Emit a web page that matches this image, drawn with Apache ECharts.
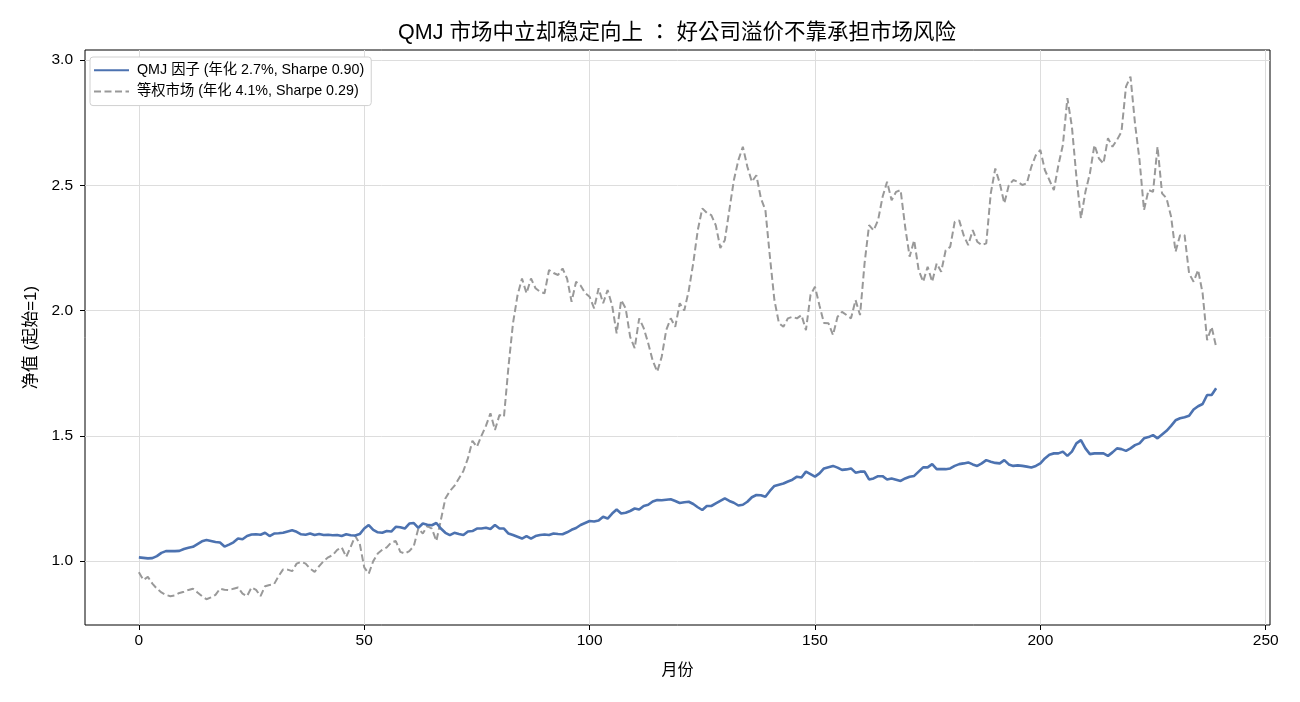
<!DOCTYPE html>
<html>
<head>
<meta charset="utf-8">
<script src="https://cdn.jsdelivr.net/npm/echarts@6/dist/echarts.min.js"></script>
<style>
  html, body { margin: 0; padding: 0; background: #fff; }
  #chart { width: 1300px; height: 702px; }
</style>
</head>
<body>
<div id="chart"></div>
<script>
// monthly net value
const qmj = [
  1.015, 1.013, 1.011, 1.012, 1.02, 1.033, 1.04, 1.04, 1.04, 1.041,
  1.048, 1.053, 1.057, 1.068, 1.079, 1.084, 1.08, 1.076, 1.074, 1.058,
  1.066, 1.075, 1.09, 1.087, 1.1, 1.106, 1.107, 1.105, 1.113, 1.1,
  1.11, 1.111, 1.113, 1.118, 1.123, 1.117, 1.107, 1.105, 1.11, 1.104,
  1.108, 1.104, 1.105, 1.103, 1.104, 1.1, 1.107, 1.103, 1.102, 1.108,
  1.13, 1.144, 1.125, 1.115, 1.113, 1.12, 1.118, 1.137, 1.135, 1.13,
  1.15, 1.152, 1.133, 1.15, 1.145, 1.143, 1.152, 1.13, 1.113, 1.104,
  1.113, 1.108, 1.104, 1.118, 1.12, 1.13, 1.13, 1.133, 1.128, 1.144,
  1.13, 1.13, 1.11, 1.104, 1.097, 1.09, 1.1, 1.09, 1.1, 1.104,
  1.106, 1.104, 1.11, 1.108, 1.107, 1.115, 1.125, 1.132, 1.144, 1.152,
  1.16, 1.158, 1.162, 1.177, 1.17, 1.19, 1.206, 1.19, 1.193, 1.2,
  1.21, 1.206, 1.22, 1.225, 1.238, 1.244, 1.243, 1.245, 1.247, 1.24,
  1.232, 1.235, 1.237, 1.228, 1.215, 1.204, 1.22, 1.22, 1.23, 1.24,
  1.25, 1.24, 1.233, 1.222, 1.225, 1.237, 1.255, 1.264, 1.263, 1.257,
  1.28, 1.3, 1.305, 1.31, 1.318, 1.325, 1.337, 1.334, 1.357, 1.347,
  1.337, 1.35, 1.37, 1.375, 1.38, 1.373, 1.364, 1.366, 1.37, 1.353,
  1.357, 1.357, 1.326, 1.33, 1.339, 1.339, 1.326, 1.33, 1.325, 1.32,
  1.33, 1.337, 1.34, 1.357, 1.374, 1.374, 1.387, 1.367, 1.367, 1.367,
  1.37, 1.38, 1.387, 1.39, 1.394, 1.386, 1.38, 1.39, 1.403, 1.397,
  1.392, 1.39, 1.403, 1.386, 1.38, 1.382, 1.38, 1.377, 1.374, 1.38,
  1.39, 1.41, 1.425, 1.43, 1.43, 1.437, 1.42, 1.437, 1.47, 1.483,
  1.45, 1.427, 1.43, 1.43, 1.43, 1.42, 1.434, 1.45, 1.447, 1.44,
  1.45, 1.463, 1.47, 1.49, 1.495, 1.503, 1.49, 1.505, 1.52, 1.54,
  1.562, 1.57, 1.574, 1.58, 1.605, 1.618, 1.627, 1.663, 1.663, 1.69
];

const market = [
  0.956, 0.925, 0.937, 0.91, 0.89, 0.875, 0.865, 0.86, 0.863, 0.873,
  0.878, 0.885, 0.89, 0.875, 0.86, 0.848, 0.855, 0.865, 0.89, 0.886,
  0.884, 0.89, 0.895, 0.87, 0.86, 0.895, 0.885, 0.86, 0.9, 0.905,
  0.908, 0.94, 0.967, 0.966, 0.96, 0.99, 0.997, 0.99, 0.97, 0.957,
  0.98, 1.0, 1.015, 1.024, 1.045, 1.055, 1.017, 1.057, 1.1, 1.07,
  0.975, 0.95, 1.0, 1.03, 1.045, 1.055, 1.075, 1.08, 1.037, 1.03,
  1.04, 1.06, 1.13, 1.11, 1.14, 1.13, 1.08, 1.164, 1.25, 1.28,
  1.3, 1.33, 1.36, 1.41, 1.48, 1.456, 1.5, 1.54, 1.59, 1.523,
  1.583, 1.576, 1.776, 1.949, 2.06, 2.128, 2.069, 2.128, 2.089, 2.075,
  2.069, 2.162, 2.15, 2.142, 2.168, 2.128, 2.035, 2.115, 2.1, 2.07,
  2.055, 2.009, 2.089, 2.029, 2.082, 2.02, 1.909, 2.042, 2.009, 1.895,
  1.85, 1.969, 1.93, 1.87, 1.8, 1.756, 1.816, 1.922, 1.969, 1.935,
  2.029, 2.0, 2.08, 2.19, 2.321, 2.408, 2.39, 2.381, 2.34, 2.25,
  2.281, 2.401, 2.52, 2.6, 2.654, 2.574, 2.514, 2.54, 2.448, 2.401,
  2.215, 2.042, 1.95, 1.935, 1.969, 1.975, 1.969, 1.982, 1.922, 2.062,
  2.095, 2.02, 1.95, 1.949, 1.902, 1.975, 1.995, 1.982, 1.969, 2.042,
  1.982, 2.188, 2.341, 2.32, 2.361, 2.454, 2.514, 2.44, 2.474, 2.481,
  2.335, 2.215, 2.281, 2.162, 2.115, 2.175, 2.115, 2.188, 2.155, 2.241,
  2.254, 2.354, 2.36, 2.3, 2.261, 2.321, 2.275, 2.261, 2.268, 2.468,
  2.567, 2.508, 2.428, 2.5, 2.521, 2.514, 2.501, 2.508, 2.574, 2.62,
  2.641, 2.561, 2.521, 2.481, 2.58, 2.661, 2.848, 2.734, 2.534, 2.368,
  2.474, 2.548, 2.661, 2.607, 2.587, 2.688, 2.654, 2.681, 2.714, 2.894,
  2.934, 2.747, 2.601, 2.401, 2.481, 2.474, 2.654, 2.468, 2.448, 2.375,
  2.235, 2.301, 2.301, 2.148, 2.115, 2.162, 2.069, 1.882, 1.935, 1.855
];

const xTicks = [0, 50, 100, 150, 200, 250];
const yTicks = [1.0, 1.5, 2.0, 2.5, 3.0];
const seriesNames = ['QMJ 因子 (年化 2.7%, Sharpe 0.90)', '等权市场 (年化 4.1%, Sharpe 0.29)'];

const font = "'Liberation Sans', Arial, 'Noto Sans CJK SC', sans-serif";
// TC variant centres the full-width colon like the original
const titleFont = "'Liberation Sans', Arial, 'Noto Sans CJK TC', sans-serif";

const chart = echarts.init(document.getElementById('chart'));

chart.setOption({
  animation: false,
  textStyle: { fontFamily: font },
  title: {
    text: 'QMJ 市场中立却稳定向上 ： 好公司溢价不靠承担市场风险',
    left: 672,
    top: 17,
    textAlign: 'center',
    textStyle: { fontSize: 21.5, fontWeight: 'normal', color: '#000', fontFamily: titleFont }
  },
  grid: {
    left: 85, right: 30, top: 50, bottom: 77,
    show: true, borderColor: '#000', borderWidth: 1, backgroundColor: 'transparent'
  },
  legend: {
    left: 90, top: 57, orient: 'vertical',
    itemWidth: 35, itemHeight: 14, itemGap: 7,
    padding: [6, 7, 7, 3],
    backgroundColor: '#fff', borderColor: '#d0d0d0', borderWidth: 1, borderRadius: 3,
    itemStyle: { opacity: 0 },
    textStyle: { fontSize: 14.3, color: '#000', fontFamily: font, padding: [0, 0, 0, 3] },
    data: seriesNames
  },
  xAxis: {
    type: 'value', min: -11.95, max: 250.95,
    name: '月份', nameLocation: 'middle', nameGap: 38,
    nameTextStyle: { fontSize: 16, color: '#000' },
    axisLine: { show: false, onZero: false },
    axisTick: { show: true, customValues: xTicks, length: 5, lineStyle: { color: '#000' } },
    axisLabel: { customValues: xTicks, color: '#000', fontSize: 15.5, margin: 8 },
    splitLine: { show: true, lineStyle: { color: '#dddddd', width: 1 } }
  },
  yAxis: {
    type: 'value', min: 0.745, max: 3.04,
    name: '净值 (起始=1)', nameLocation: 'middle', nameGap: 45, nameRotate: 90,
    nameTextStyle: { fontSize: 17, color: '#000' },
    axisLine: { show: false, onZero: false },
    axisTick: { show: true, customValues: yTicks, length: 5, lineStyle: { color: '#000' } },
    axisLabel: { customValues: yTicks, color: '#000', fontSize: 15.5, margin: 12,
      formatter: v => v.toFixed(1) },
    splitLine: { show: true, lineStyle: { color: '#dddddd', width: 1 } }
  },
  series: [
    {
      name: seriesNames[0], type: 'line', symbol: 'none', z: 3,
      data: qmj.map((v, i) => [i, v]),
      lineStyle: { color: '#4c72b0', width: 2.6 },
      itemStyle: { color: '#4c72b0' }
    },
    {
      name: seriesNames[1], type: 'line', symbol: 'none', z: 2,
      data: market.map((v, i) => [i, v]),
      lineStyle: { color: '#999999', width: 2, type: [7, 3.5] },
      itemStyle: { color: '#999999' }
    }
  ]
});
</script>
</body>
</html>
